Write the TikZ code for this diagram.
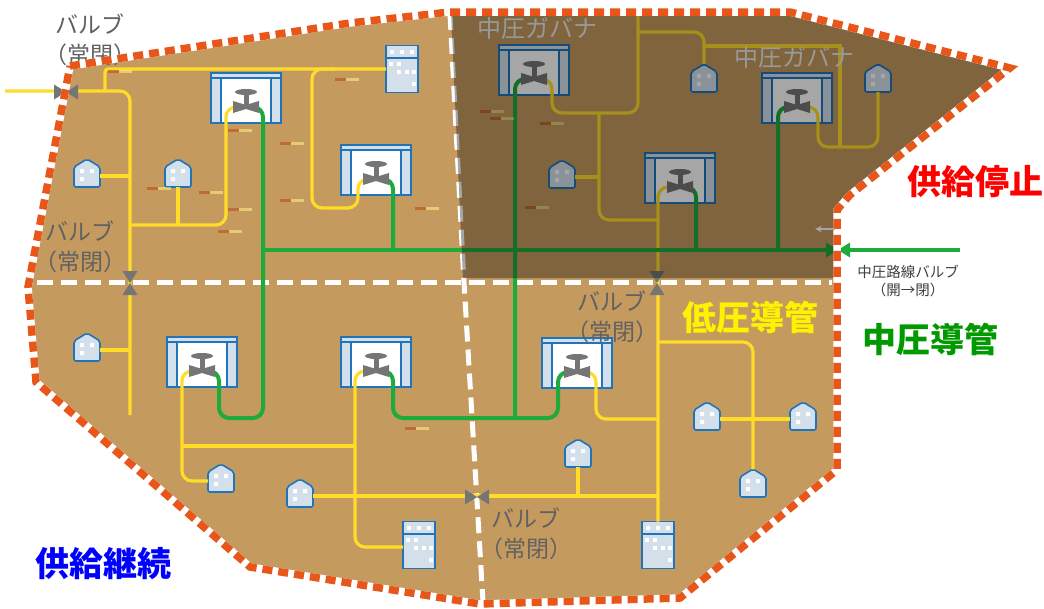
\documentclass[tikz,border=0pt]{standalone}
\usepackage{fontspec}
\setmainfont{Noto Sans CJK JP}
\usepackage{xcolor}
\usetikzlibrary{positioning}
\definecolor{ground}{HTML}{C49A5F}
\definecolor{borderred}{HTML}{E8561A}
\definecolor{lowyellow}{HTML}{FFDC28}
\definecolor{midgreen}{HTML}{1FAA3C}
\definecolor{iconblue}{HTML}{1F74BA}
\definecolor{iconfill}{HTML}{D3E0EC}
\definecolor{valvegray}{HTML}{757575}
\tikzset{
  lowpipe/.style={draw=lowyellow,line width=3.2pt,rounded corners=10pt},
  midpipe/.style={draw=midgreen,line width=4pt,rounded corners=10pt},
  iconline/.style={draw=iconblue,line width=1.6pt},
  divider/.style={draw=white,line width=5pt,dash pattern=on 16pt off 8pt},
  graylabel/.style={text=black!62,align=center,font=\fontsize{23}{30}\selectfont},
  govlabel/.style={text=black!40,font=\fontsize{24}{28}\selectfont},
  zonelabel/.style={font=\fontsize{34}{38}\selectfont\bfseries},
  pics/bowtie/.style={code={
    \fill[#1] (-12,-7.5) -- (12,7.5) -- (12,-7.5) -- (-12,7.5) -- cycle;
  }},
  pics/govbox/.style={code={
    \filldraw[iconline,fill=white] (-35,-25) rectangle (35,25);
    \filldraw[iconline,fill=iconfill] (-35,-25) rectangle (35,-20);
    \filldraw[iconline,fill=iconfill] (-35,-20) rectangle (-25,25);
    \filldraw[iconline,fill=iconfill] (25,-20) rectangle (35,25);
    \coordinate (-l) at (-11,9);
    \coordinate (-r) at (11,9);
    \coordinate (-c) at (0,0);
  }},
  pics/govvalve/.style={code={
    \fill[valvegray] (0,-6) ellipse (11 and 3);
    \fill[valvegray] (-2.5,-6) rectangle (2.5,9);
    \fill[valvegray] (-13,3) -- (0,7) -- (13,3) -- (13,15) -- (0,11) -- (-13,15) -- cycle;
  }},
  pics/house/.style={code={
    \filldraw[iconline,fill=iconfill,rounded corners=2pt] (-13,14) -- (-13,-6) -- (0,-14) -- (13,-6) -- (13,14) -- cycle;
    \fill[white] (-7,-4) rectangle ++(4,4) (3,-4) rectangle ++(4,4) (-7,4) rectangle ++(4,4);
    \coordinate (-w) at (-13,3);
    \coordinate (-e) at (13,3);
    \coordinate (-n) at (0,-14);
    \coordinate (-s) at (0,14);
  }},
  pics/building/.style={code={
    \filldraw[iconline,fill=iconfill] (-16,-23.5) rectangle (16,23.5);
    \draw[iconline] (-16,-11) -- (16,-11);
    \foreach \wx/\wy in {-10/-17,0/-17,10/-17,-11/-5,-3/-5,-3/3,5/3,12/3,12/15}
      \fill[white] (\wx-2,\wy-2) rectangle ++(4,4);
    \coordinate (-w) at (-16,2);
    \coordinate (-n) at (0,-23.5);
  }},
}
\begin{document}
\begin{tikzpicture}[x=1pt,y=-1pt]
    \useasboundingbox (0,0) rectangle (1044,608);
    \fill[white] (0,0) rectangle (1044,608);

    % Ground
    \fill[ground] (70,66) -- (350,23) -- (450,12) -- (790,12) -- (1010,68) -- (850,195) -- (837,210) -- (837,470) -- (680,598) -- (480,604) -- (250,567) -- (36,382) -- (28,287) -- cycle;

    % Dividing lines
    \draw[divider] (37,282) -- (832,282);
    \draw[divider] (450,14) -- (464,282) -- (483,602);

    % Governor boxes
    \foreach \n/\x/\y in {g1/246/98,g2/376/170,g3/202/362,g4/376/362,g5/577/363,ga/534/70,gb/797/98,gc/680/178}
      \pic (\n) at (\x,\y) {govbox};

    % Houses and buildings
    \foreach \n/\x/\y in {h1/87/173,h2/178/173,h3/87/347,h4/221/478,h5/300/493,h6/578/453,h7/704/78,h8/878/78,h9/562/174,h10/753/483,h11/707/416,h12/803/416}
      \pic (\n) at (\x,\y) {house};
    \foreach \n/\x/\y in {b1/402/69,b2/419/545,b3/658/545}
      \pic (\n) at (\x,\y) {building};

    % Low pressure pipes
    \draw[lowpipe] (5,91) -| (130,415);
    \draw[lowpipe,rounded corners=3pt] (105,91) |- (b1-w |- 0,69);
    \draw[lowpipe] (335,69) -- (312,69) -- (312,208) -- (358,208) -- (358,179) -- (g2-l);
    \draw[lowpipe] (g1-l) -| (226,225) -- (130,225);
    \draw[lowpipe] (h2-s) -- (178,225);
    \draw[lowpipe] (h1-e) -- (130,176);
    \draw[lowpipe] (h3-e) -- (130,350);
    \draw[lowpipe] (g3-l) -| (182,481) -- (h4-w);
    \draw[lowpipe] (182,446) -- (355,446);
    \draw[lowpipe] (g4-l) -| (355,547) -- (b2-w);
    \draw[lowpipe] (h5-e) -- (657,496);
    \draw[lowpipe] (h6-s) -- (578,496);
    \draw[lowpipe] (gc-l) -| (b3-n);
    \draw[lowpipe] (599,113) -- (599,220) -- (657,220);
    \draw[lowpipe] (ga-r) -| (552,113) -| (638,13);
    \draw[lowpipe] (638,32) -| (h7-n);
    \draw[lowpipe,rounded corners=0pt] (703,46) -- (840,46) -- (840,147);
    \draw[lowpipe] (gb-r) -| (818,147) -| (h8-s);
    \draw[lowpipe] (h9-e) -- (599,177);
    \draw[lowpipe] (657,342) -| (h10-n);
    \draw[lowpipe] (h11-e) -- (h12-w);
    \draw[lowpipe] (g5-r) -| (596,419) -- (657,419);

    % Medium pressure pipes
    \draw[midpipe] (g1-r) -| (263,418) -- (219,418) -- (219,371) -- (g3-r);
    \draw[midpipe] (g4-r) -| (393,418) -- (558,418) -- (558,372) -- (g5-l);
    \draw[midpipe] (ga-l) -| (515,418);
    \draw[midpipe] (g2-r) -| (393,250);
    \draw[midpipe] (gc-r) -| (696,250);
    \draw[midpipe] (gb-l) -| (778,250);
    \draw[midpipe] (263,250) -- (960,250);

    % Valves
    \foreach \n in {g1,g2,g3,g4,g5,ga,gb,gc}
      \pic at (\n-c) {govvalve};
    \pic (v1) at (66,92) {bowtie=valvegray};
    \pic (v3) at (477,497) {bowtie=valvegray};
    \pic[rotate=90] (v2) at (130,283) {bowtie=valvegray};
    \pic[rotate=90] (v4) at (657,283) {bowtie=valvegray};
    \pic (mv) at (838,250) {bowtie=midgreen};

    % Marks left in the ground
    \foreach \x/\y in {108/70,228/129,280/142,147/187,199/191,228/208,280/199,218/230,335/78,415/207,405/427,480/110,540/122,525/206,490/117}{
      \fill[borderred!80!black,opacity=.55] (\x,\y) rectangle ++(11,2.5);
      \fill[yellow!50!white,opacity=.55] (\x+11,\y) rectangle ++(13,2.5);
    }

    % Shut off area
    \fill[black,opacity=.35] (451,12) -- (790,12) -- (1010,68) -- (850,195) -- (835,210) -- (835,278) -- (463,278) -- cycle;

    % Labels
    \node[graylabel] (label1) at (90,40) {バルブ\\（常閉）};
    \node[graylabel] (label2) at (80,247) {バルブ\\（常閉）};
    \node[graylabel] (label3) at (612,317) {バルブ\\（常閉）};
    \node[graylabel] (label4) at (526,534) {バルブ\\（常閉）};
    \node[govlabel] (gov1) at (537,28) {中圧ガバナ};
    \node[govlabel] (gov2) at (794,57) {中圧ガバナ};
    \node[zonelabel,text=red] (stop) at (975,182) {供給停止};
    \node[zonelabel,text=blue] (cont) at (103,564) {供給継続};
    \node[zonelabel,text=green!60!black] (mid) at (930,339) {中圧導管};
    \node[zonelabel,text=yellow] (low) at (750,317) {低圧導管};
    \node[align=center,text=black!75,font=\fontsize{14.5}{18}\selectfont] (mvlabel) at (908,281) {中圧路線バルブ\\（開→閉）};

    % Border
    \draw[white,line width=7.5pt] (70,66) -- (350,23) -- (450,12) -- (790,12) -- (1010,68) -- (850,195) -- (837,210) -- (837,470) -- (680,598) -- (480,604) -- (250,567) -- (36,382) -- (28,287) -- cycle;
    \draw[borderred,line width=7.5pt,dash pattern=on 10pt off 6pt] (70,66) -- (350,23) -- (450,12) -- (790,12) -- (1010,68) -- (850,195) -- (837,210) -- (837,470) -- (680,598) -- (480,604) -- (250,567) -- (36,382) -- (28,287) -- cycle;

    % Small arrow by the valve
    \coordinate (arrowtail) at (835,229);
    \coordinate (arrowhead) at (815,229);
    \draw[->,>=stealth,black!35,line width=2pt] (arrowtail) -- (arrowhead);
\end{tikzpicture}
\end{document}
